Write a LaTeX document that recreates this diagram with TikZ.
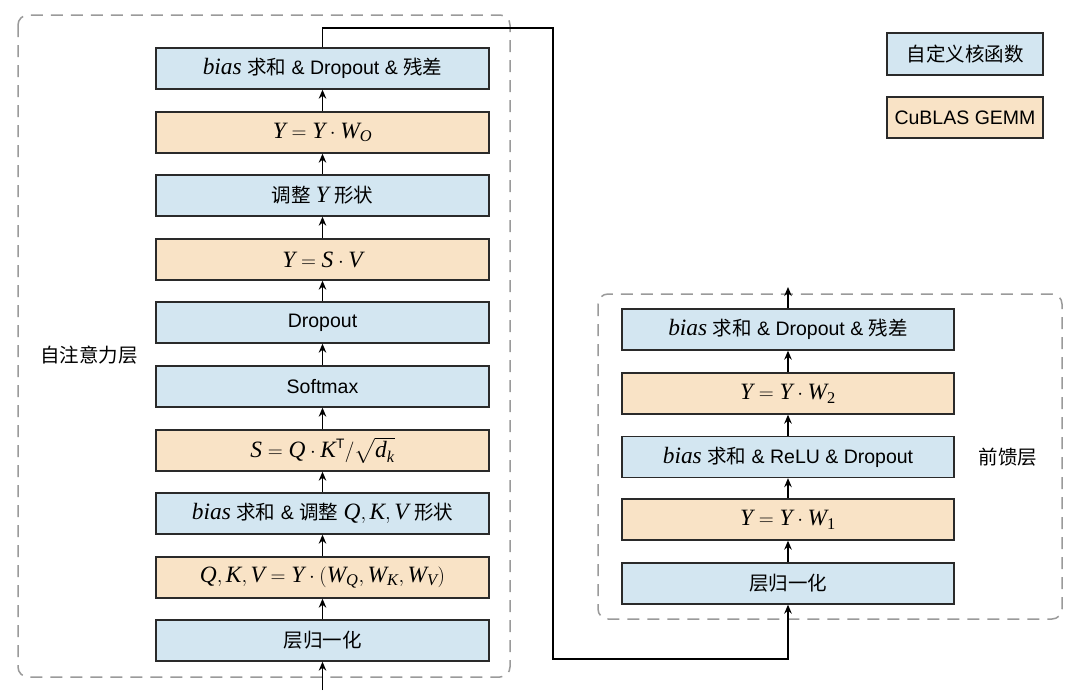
\documentclass[tikz,border=0pt]{standalone}
\usepackage{amsmath}
\usepackage{fontspec}
\setmainfont{Liberation Sans}
\newfontfamily\cjk{Noto Sans CJK SC}
\newfontfamily\tms[Scale=1.2]{Liberation Serif}
\newcommand{\zh}[1]{{\cjk #1}}
\newcommand{\mi}[1]{\text{\tms\itshape #1}}
\newcommand{\mr}[1]{\text{\tms #1}}
\usetikzlibrary{arrows.meta}
\definecolor{kblue}{HTML}{D3E6F1}
\definecolor{korange}{HTML}{F9E3C6}
\definecolor{kline}{HTML}{2A2A2A}
\definecolor{kdash}{HTML}{9A9A9A}
\tikzset{
  box/.style={draw=kline, line width=1.3pt, minimum width=333pt, minimum height=41pt, inner sep=0pt, font=\fontsize{19.5}{23}\selectfont},
  bbox/.style={box, fill=kblue},
  obox/.style={box, fill=korange},
  arr/.style={-{Stealth[length=9pt,width=7.5pt]}, line width=1.6pt, draw=black},
  group/.style={draw=kdash, line width=1.5pt, dash pattern=on 12pt off 8pt, rounded corners=10pt},
  lbl/.style={font=\fontsize{19.5}{23}\selectfont}
}
\begin{document}
\begin{tikzpicture}[x=1pt,y=-1pt]
\useasboundingbox (0,0) rectangle (1080,699);
% groups
\draw[group] (18,15) rectangle (510,677);
\draw[group] (598,294) rectangle (1062,619);
% left column
\node[bbox] (a1) at (322.5,640.5) {\zh{层归一化}};
\node[obox] (a2) at (322.5,577.5) {$\mi{Q},\mi{K},\mi{V}=\mi{Y}\cdot(\mi{W}_{\mi{Q}},\mi{W}_{\mi{K}},\mi{W}_{\mi{V}})$};
\node[bbox] (a3) at (322.5,513.5) {\mi{bias} \zh{求和} \& \zh{调整} $\mi{Q},\mi{K},\mi{V}$ \zh{形状}};
\node[obox] (a4) at (322.5,450.5) {$\mi{S}=\mi{Q}\cdot \mi{K}^{\text{T}}/\sqrt{\mi{d}_{\mi{k}}}$};
\node[bbox] (a5) at (322.5,386.5) {Softmax};
\node[bbox] (a6) at (322.5,322.5) {Dropout};
\node[obox] (a7) at (322.5,259.5) {$\mi{Y}=\mi{S}\cdot\mi{V}$};
\node[bbox] (a8) at (322.5,195.5) {\zh{调整} \mi{Y} \zh{形状}};
\node[obox] (a9) at (322.5,132.5) {$\mi{Y}=\mi{Y}\cdot\mi{W}_{\mi{O}}$};
\node[bbox] (a10) at (322.5,68.5) {\mi{bias} \zh{求和} \& Dropout \& \zh{残差}};
% right column
\node[bbox, minimum width=332pt] (f1) at (788,583.5) {\zh{层归一化}};
\node[obox, minimum width=332pt] (f2) at (788,519.5) {$\mi{Y}=\mi{Y}\cdot\mi{W}_{\mr{1}}$};
\node[bbox, minimum width=332pt] (f3) at (788,457) {\mi{bias} \zh{求和} \& ReLU \& Dropout};
\node[obox, minimum width=332pt] (f4) at (788,393.5) {$\mi{Y}=\mi{Y}\cdot\mi{W}_{\mr{2}}$};
\node[bbox, minimum width=332pt] (f5) at (788,329.5) {\mi{bias} \zh{求和} \& Dropout \& \zh{残差}};
% labels
\node[lbl] (lsa) at (89,355) {\zh{自注意力层}};
\node[lbl] (lff) at (1008,457) {\zh{前馈层}};
% legend
\node[bbox, minimum width=156pt, minimum height=42pt] (leg1) at (965,54) {\zh{自定义核函数}};
\node[obox, minimum width=156pt, minimum height=41pt] (leg2) at (965,117.5) {CuBLAS GEMM};
% arrows left
\coordinate (in) at (322.5,690);
\draw[arr] (in) -- (a1.south);
\foreach \i/\j in {a1/a2,a2/a3,a3/a4,a4/a5,a5/a6,a6/a7,a7/a8,a8/a9,a9/a10}
  \draw[arr] (\i.north) -- (\j.south);
% arrows right
\foreach \i/\j in {f1/f2,f2/f3,f3/f4,f4/f5}
  \draw[arr] (\i.north) -- (\j.south);
\coordinate (out) at (788,287);
\draw[arr] (f5.north) -- (out);
% connector
\coordinate (c1) at (553,28);
\coordinate (c2) at (553,659);
\draw[arr] (a10.north) -- (a10.north |- c1) -- (c1) -- (c2) -- (c2 -| f1.south) -- (f1.south);
\end{tikzpicture}
\end{document}
